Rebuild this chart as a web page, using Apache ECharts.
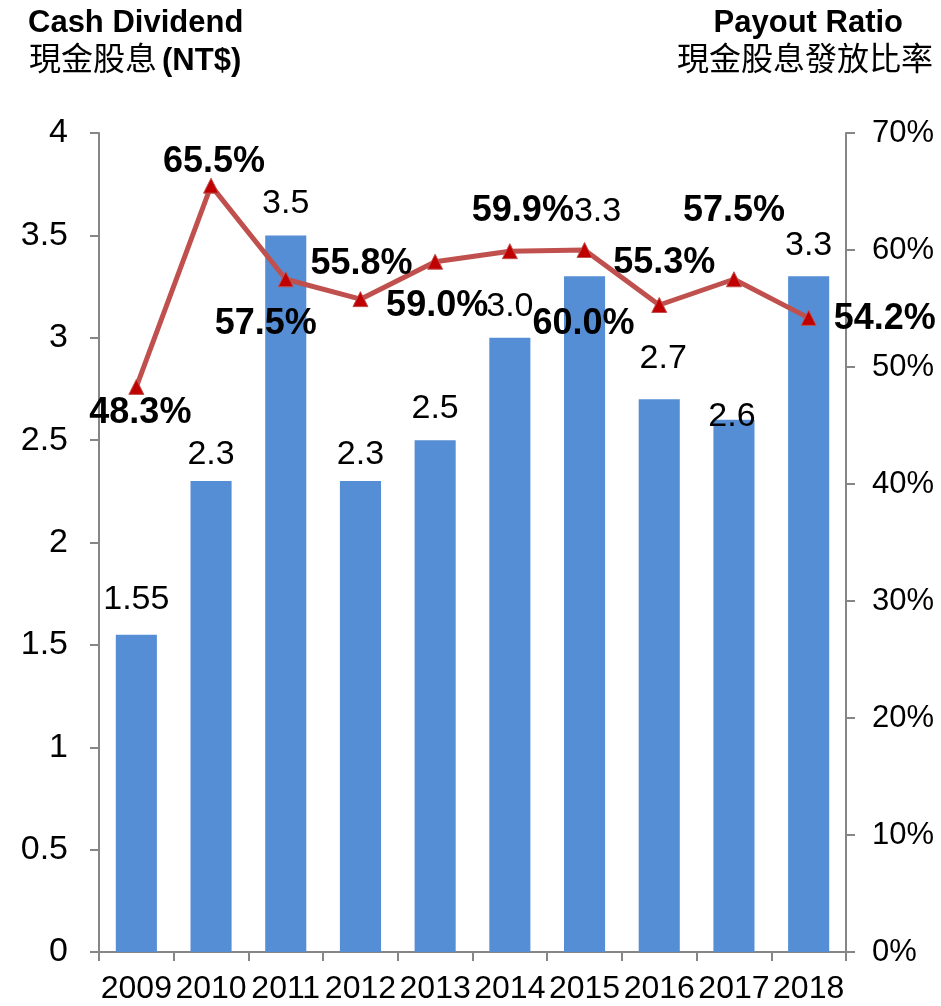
<!DOCTYPE html>
<html>
<head>
<meta charset="utf-8">
<script src="https://cdn.jsdelivr.net/npm/echarts@6/dist/echarts.min.js"></script>
<style>
html,body{margin:0;padding:0;background:#fff;}
#chart{width:941px;height:1006px;}
</style>
</head>
<body>
<div id="chart"></div>
<script>
// ---- data ----
const years = ['2009','2010','2011','2012','2013','2014','2015','2016','2017','2018'];
const cashDividend = [1.55, 2.3, 3.5, 2.3, 2.5, 3.0, 3.3, 2.7, 2.6, 3.3];
const payoutRatio = [48.3, 65.5, 57.5, 55.8, 59.0, 59.9, 60.0, 55.3, 57.5, 54.2];
const leftTicks = [0, 0.5, 1, 1.5, 2, 2.5, 3, 3.5, 4];
const rightTicks = [0, 10, 20, 30, 40, 50, 60, 70];

// ---- label placement (style only) ----
const lineLabelPlace = [
  {position:'bottom', distance:0, offset:[4,0]},
  {position:'top', distance:-2, offset:[3,0]},
  {position:'bottom', distance:19, offset:[-20,0]},
  {position:'top', distance:9, offset:[1,0]},
  {position:'bottom', distance:18, offset:[2,0]},
  {position:'top', distance:14, offset:[13,0]},
  {position:'bottom', distance:48, offset:[-1,0]},
  {position:'top', distance:16, offset:[5,0]},
  {position:'top', distance:42, offset:[0,0]},
  {position:'right', distance:17, offset:[0,1]}
];
const barLabelPlace = [
  {distance:18, offset:[0,0]},
  {distance:9, offset:[0,0]},
  {distance:15, offset:[0,0]},
  {distance:9, offset:[0,0]},
  {distance:15, offset:[0,0]},
  {distance:14, offset:[0,0]},
  {distance:48, offset:[13,0]},
  {distance:24, offset:[4,0]},
  {distance:-14, offset:[-2,0]},
  {distance:14, offset:[0,0]}
];

const FONT = '"Liberation Sans", Arial, "Noto Sans CJK TC", sans-serif';
const CJK = '"Liberation Sans", Arial, "Noto Sans CJK TC", sans-serif';

function fmtDiv(v){
  const s = String(v);
  return s.indexOf('.') >= 0 ? s : v.toFixed(1);
}

const chart = echarts.init(document.getElementById('chart'));
chart.setOption({
  backgroundColor: '#ffffff',
  animation: false,
  title: [
    {
      left: 23, top: 3,
      text: 'Cash Dividend',
      textStyle: {fontFamily: FONT, fontSize: 31, fontWeight: 'bold', color: '#000'}
    },
    {
      left: 24, top: 40,
      text: '{c|現金股息} {b|(NT$)}',
      textStyle: {
        fontWeight: 'normal',
        rich: {
          c: {fontFamily: CJK, fontSize: 32, fontWeight: 'normal', color: '#000'},
          b: {fontFamily: FONT, fontSize: 31, fontWeight: 'bold', color: '#000'}
        }
      }
    },
    {
      right: 33, top: 3,
      text: 'Payout Ratio',
      textStyle: {fontFamily: FONT, fontSize: 31, fontWeight: 'bold', color: '#000'}
    },
    {
      right: 3, top: 40,
      text: '現金股息發放比率',
      textStyle: {fontFamily: CJK, fontSize: 32, fontWeight: 'normal', color: '#000'}
    }
  ],
  grid: {left: 99, right: 95, top: 133, bottom: 54, containLabel: false},
  xAxis: {
    type: 'category',
    data: years,
    axisLine: {lineStyle: {color: '#868686', width: 2}},
    axisTick: {show: true, length: 9, lineStyle: {color: '#868686', width: 2}},
    axisLabel: {fontFamily: FONT, fontSize: 32, color: '#000', margin: 21, interval: 0}
  },
  yAxis: [
    {
      type: 'value',
      min: leftTicks[0], max: leftTicks[leftTicks.length-1], interval: leftTicks[1]-leftTicks[0],
      splitLine: {show: false},
      axisLine: {show: true, lineStyle: {color: '#868686', width: 2}},
      axisTick: {show: true, length: 9, lineStyle: {color: '#868686', width: 2}},
      axisLabel: {fontFamily: FONT, fontSize: 34, color: '#000', margin: 31}
    },
    {
      type: 'value',
      position: 'right',
      min: rightTicks[0], max: rightTicks[rightTicks.length-1], interval: rightTicks[1]-rightTicks[0],
      splitLine: {show: false},
      axisLine: {show: true, lineStyle: {color: '#868686', width: 2}},
      axisTick: {show: true, length: 9, lineStyle: {color: '#868686', width: 2}},
      axisLabel: {fontFamily: FONT, fontSize: 31, color: '#000', margin: 26, formatter: v => v + '%'}
    }
  ],
  series: [
    {
      type: 'bar',
      yAxisIndex: 0,
      barWidth: '55%',
      itemStyle: {color: '#558ED5'},
      data: cashDividend.map((v, i) => ({
        value: v,
        label: {show: true, position: 'top', distance: barLabelPlace[i].distance, offset: barLabelPlace[i].offset}
      })),
      label: {
        show: true, position: 'top',
        fontFamily: FONT, fontSize: 34, color: '#000',
        formatter: p => fmtDiv(p.value)
      },
      z: 2
    },
    {
      type: 'line',
      yAxisIndex: 1,
      symbol: 'triangle',
      symbolSize: 15,
      lineStyle: {color: '#C0504D', width: 5},
      itemStyle: {color: '#C00000', borderColor: '#C0504D', borderWidth: 1},
      data: payoutRatio.map((v, i) => ({
        value: v,
        label: {show: true, position: lineLabelPlace[i].position, distance: lineLabelPlace[i].distance, offset: lineLabelPlace[i].offset}
      })),
      label: {
        show: true,
        fontFamily: FONT, fontSize: 36, fontWeight: 'bold', color: '#000',
        formatter: p => p.value.toFixed(1) + '%'
      },
      z: 3
    }
  ]
});
</script>
</body>
</html>
